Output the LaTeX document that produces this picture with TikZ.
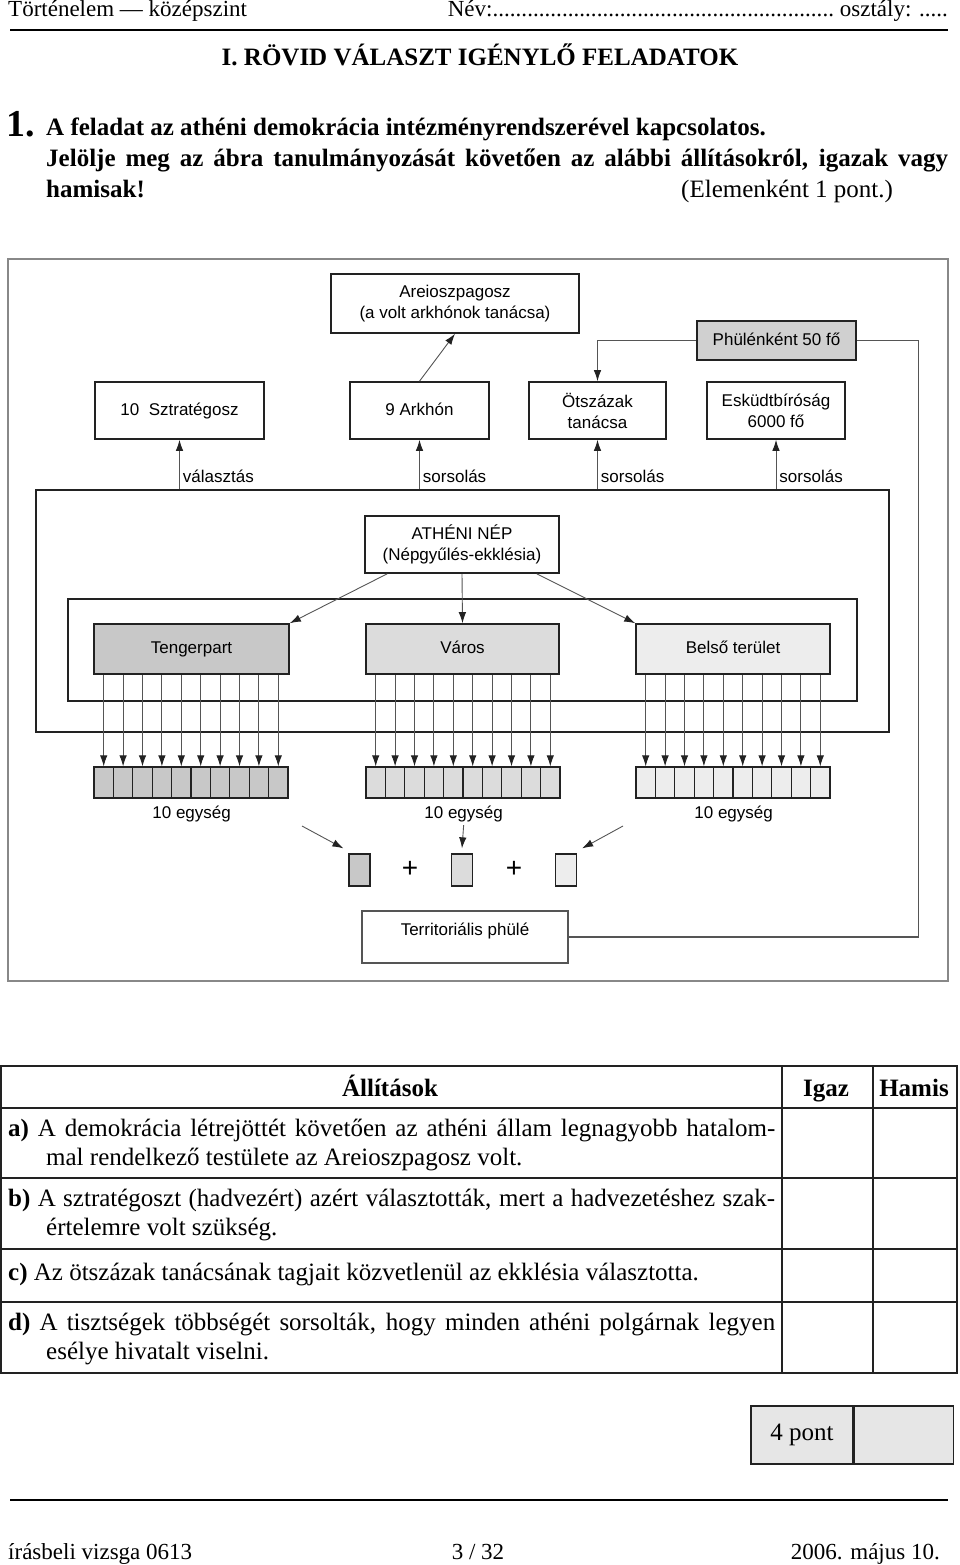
\documentclass[tikz,border=0pt]{standalone}
\usepackage{fontspec}
\setmainfont{Liberation Serif}
\newfontfamily\diagfont{Liberation Sans}
\usetikzlibrary{arrows.meta, positioning}

\definecolor{inkgray}{HTML}{222222}
\definecolor{wiregray}{HTML}{555555}
\definecolor{framegray}{HTML}{888888}
\definecolor{darkfill}{HTML}{C8C8C8}
\definecolor{midfill}{HTML}{DCDCDC}
\definecolor{lightfill}{HTML}{EDEDED}
\definecolor{scorefill}{HTML}{E6E6E6}

\tikzset{
  box/.style={draw=inkgray, line width=1.6pt, fill=white, inner sep=0pt, align=center,
    font=\diagfont\fontsize{17}{21}\selectfont},
  oneline/.style={text height=12.5pt, text depth=3.5pt},
  cell/.style={draw=inkgray, line width=1.3pt, inner sep=0pt, minimum height=31pt},
  wire/.style={draw=wiregray, line width=0.9pt},
  arr/.style={wire, -{Latex[length=11pt, width=7.5pt, color=inkgray]}},
  lbl/.style={font=\diagfont\fontsize{17}{21}\selectfont, inner sep=3pt},
  txt/.style={inner sep=0pt, font=\fontsize{23}{29}\selectfont},
  body/.style={inner sep=0pt, font=\fontsize{25}{29}\selectfont},
  bold/.style={inner sep=0pt, font=\bfseries\fontsize{25}{29}\selectfont},
  row/.style={body, anchor=west},
}

\begin{document}
\begin{tikzpicture}[x=1pt, y=-1pt]
\useasboundingbox (0,0) rectangle (960,1565);

% Page head
\node[txt, anchor=west] (subject) at (8,11) {Történelem — középszint};
\node[txt, anchor=east] (student) at (948,11)
  {\makebox[500pt]{Név:\xleaders\hbox{.}\hfill\ osztály: .....}};
\draw[line width=2.5pt] (10,30) -- (948,30);
\node[bold] (title) at (480,55) {I. RÖVID VÁLASZT IGÉNYLŐ FELADATOK};

% Task text
\node[anchor=base west, inner sep=0pt, font=\bfseries\fontsize{38}{38}\selectfont] (num) at (6,137) {1.};
\node[bold, anchor=base west] (task1) at (46,136)
  {A feladat az athéni demokrácia intézményrendszerével kapcsolatos.};
\node[bold, anchor=base west] (task2) at (46,167)
  {\makebox[902pt][s]{Jelölje meg az ábra tanulmányozását követően az alábbi állításokról, igazak vagy}};
\node[bold, anchor=base west] (task3) at (46,197) {hamisak!};
\node[body, anchor=base west] (points) at (681,197) {(Elemenként 1 pont.)};

% Diagram frame
\draw[framegray, line width=1.5pt] (8,259) rectangle (948,981);

% Outer frames
\node[draw=inkgray, line width=1.2pt, minimum width=853pt, minimum height=242pt, inner sep=0pt]
  (nepframe) at (462.5,611) {};
\node[draw=inkgray, line width=1.2pt, minimum width=789pt, minimum height=102pt, inner sep=0pt]
  (regframe) at (462.5,650) {};

% Offices
\node[box, minimum width=248pt, minimum height=59pt] (areio) at (455,303.5)
  {Areioszpagosz\\(a volt arkhónok tanácsa)};
\node[box, oneline, fill=darkfill!85, minimum width=159pt, minimum height=39pt] (phule) at (776.5,340.5)
  {Phülénként 50 fő};
\node[box, oneline, minimum width=169pt, minimum height=57pt] (sztr) at (179.5,410.5) {10\ \ Sztratégosz};
\node[box, oneline, minimum width=139pt, minimum height=57pt] (arkhon) at (419.5,410.5) {9 Arkhón};
\node[box, minimum width=137pt, minimum height=57pt] (otsz) at (597.5,410.5) {Ötszázak\\tanácsa};
\node[box, minimum width=138pt, minimum height=57pt] (eskudt) at (776,410.5) {Esküdtbíróság\\6000 fő};

% People and regions
\node[box, minimum width=194pt, minimum height=57pt] (nep) at (462,544.5)
  {ATHÉNI NÉP\\(Népgyűlés-ekklésia)};
\node[box, oneline, fill=darkfill, minimum width=195pt, minimum height=50pt] (tenger) at (191.5,649) {Tengerpart};
\node[box, oneline, fill=midfill, minimum width=193pt, minimum height=50pt] (varos) at (462.5,649) {Város};
\node[box, oneline, fill=lightfill, minimum width=194pt, minimum height=50pt] (belso) at (733,649) {Belső terület};

% Arrows between offices
\draw[arr] (arkhon.north) -- (areio.south);
\draw[arr] (phule.west) -| (otsz.north);
\draw[arr] (sztr.south |- nepframe.north) -- node[lbl, right, pos=0.27] {választás} (sztr.south);
\draw[arr] (arkhon.south |- nepframe.north) -- node[lbl, right, pos=0.27] {sorsolás} (arkhon.south);
\draw[arr] (otsz.south |- nepframe.north) -- node[lbl, right, pos=0.27] {sorsolás} (otsz.south);
\draw[arr] (eskudt.south |- nepframe.north) -- node[lbl, right, pos=0.27] {sorsolás} (eskudt.south);

\draw[arr] ([xshift=23pt]nep.south west) -- (tenger.north east);
\draw[arr] (nep.south) -- (varos.north);
\draw[arr] ([xshift=-23pt]nep.south east) -- (belso.north west);

% Units
\foreach \grp/\x/\tone/\reg in {t/94/darkfill/tenger, v/366/midfill/varos, b/636/lightfill/belso}
  \foreach \i in {1,...,10} {
    \node[cell, fill=\tone, minimum width=19.4pt] (\grp\i) at ({\x+19.4*(\i-0.5)},782.5) {};
    \draw[arr] (\reg.south -| \grp\i.north) -- (\grp\i.north);
  }
\node[lbl, below=4pt of t5.south east] (eg1) {10 egység};
\node[lbl, below=4pt of v5.south east] (eg2) {10 egység};
\node[lbl, below=4pt of b5.south east] (eg3) {10 egység};

% Phyle
\node[cell, fill=darkfill, minimum width=21pt, minimum height=32pt] (s1) at (359.5,870) {};
\node[cell, fill=midfill, minimum width=21pt, minimum height=32pt] (s2) at (462,870) {};
\node[cell, fill=lightfill, minimum width=21pt, minimum height=32pt] (s3) at (566,870) {};
\node[lbl, font=\diagfont\fontsize{28}{28}\selectfont] (plus1) at (410,869) {+};
\node[lbl, font=\diagfont\fontsize{28}{28}\selectfont] (plus2) at (514,869) {+};
\coordinate (from1) at (302,826);
\coordinate (from3) at (623,826);
\draw[arr] (from1) -- ([shift={(-5,-5)}]s1.north west);
\draw[arr] (eg2.south) -- ([yshift=5pt]s2.north);
\draw[arr] (from3) -- ([shift={(5,-5)}]s3.north east);

\node[box, draw=wiregray, line width=1.2pt, minimum width=206pt, minimum height=52pt, text depth=16pt]
  (terr) at (465,937) {Territoriális phülé};
\draw[wire, line width=1.2pt] (phule.east) -- ++(62,0) |- (terr.east);

% Table
\draw[inkgray, line width=1.5pt] (1,1066) rectangle (957,1373);
\foreach \y in {1108,1178,1249,1302}
  \draw[inkgray, line width=1.5pt] (1,\y) -- (957,\y);
\foreach \x in {782,873}
  \draw[inkgray, line width=1.5pt] (\x,1066) -- (\x,1373);
\node[bold, anchor=base] (colstmt) at (390,1096) {Állítások};
\node[bold, anchor=base] (coltrue) at (826,1096) {Igaz};
\node[bold, anchor=base] (colfalse) at (914,1096) {Hamis};

\node[row] (rowa) at (8,1145) {\parbox{767pt}{\noindent\hangindent=38pt\hangafter=1
  \textbf{a)} A demokrácia létrejöttét követően az athéni állam legnagyobb hatalom-\linebreak
  mal rendelkező testülete az Areioszpagosz volt.}};
\node[row] (rowb) at (8,1215) {\parbox{767pt}{\noindent\hangindent=38pt\hangafter=1
  \textbf{b)} A sztratégoszt (hadvezért) azért választották, mert a hadvezetéshez szak-\linebreak
  értelemre volt szükség.}};
\node[row] (rowc) at (8,1274) {\parbox{767pt}{\noindent
  \textbf{c)} Az ötszázak tanácsának tagjait közvetlenül az ekklésia választotta.}};
\node[row] (rowd) at (8,1339) {\parbox{767pt}{\noindent\hangindent=38pt\hangafter=1
  \textbf{d)} A tisztségek többségét sorsolták, hogy minden athéni polgárnak legyen\linebreak
  esélye hivatalt viselni.}};

% Score
\node[draw=inkgray, line width=1.5pt, fill=scorefill, minimum width=102pt, minimum height=58pt,
  inner sep=0pt, font=\fontsize{25}{29}\selectfont] (score) at (802,1435) {4 pont};
\node[draw=inkgray, line width=1.5pt, fill=scorefill, minimum width=99pt, minimum height=58pt,
  inner sep=0pt, right=0pt of score] (scorebox) {};

% Page foot
\draw[line width=2.5pt] (10,1500) -- (948,1500);
\node[txt, anchor=base west] (examcode) at (8,1559) {írásbeli vizsga 0613};
\node[txt, anchor=base] (pageno) at (478,1559) {3 / 32};
\node[txt, anchor=base east] (examdate) at (940,1559) {2006. május 10.};
\end{tikzpicture}
\end{document}
